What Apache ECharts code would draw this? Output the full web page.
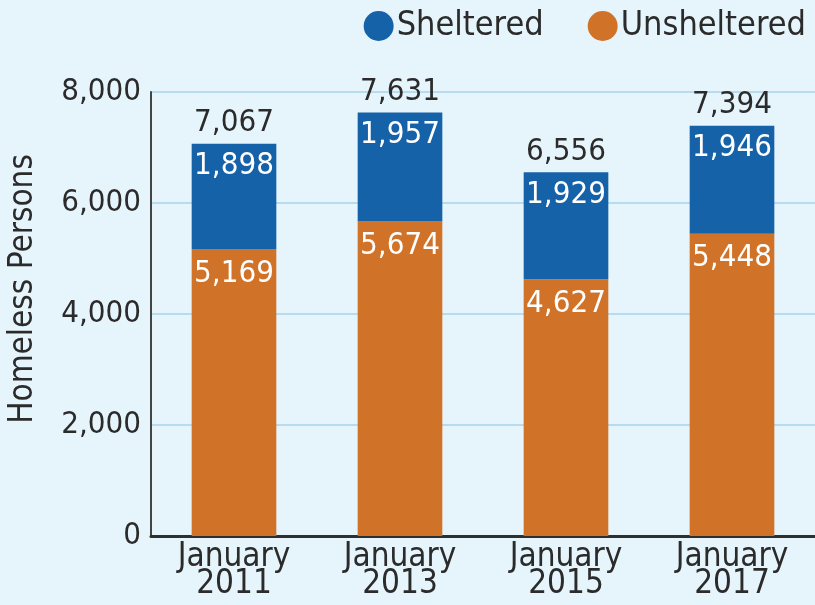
<!DOCTYPE html>
<html>
<head>
<meta charset="utf-8">
<script src="https://cdn.jsdelivr.net/npm/echarts@6/dist/echarts.min.js"></script>
<style>
  html, body { margin: 0; padding: 0; background: #e6f5fc; }
  #chart { width: 815px; height: 605px; }
</style>
</head>
<body>
<div id="chart"></div>
<script>
const categories = ['January\n2011', 'January\n2013', 'January\n2015', 'January\n2017'];
const unsheltered = [5169, 5674, 4627, 5448];
const sheltered = [1898, 1957, 1929, 1946];
const totals = [7067, 7631, 6556, 7394];

const FONT = '"Liberation Sans Narrow", "DejaVu Sans Condensed", "Noto Sans", sans-serif';
const fmt = v => Number(v).toLocaleString('en-US');

const chart = echarts.init(document.getElementById('chart'));
chart.setOption({
    backgroundColor: '#e6f5fc',
    animation: false,
    legend: {
        right: 4,
        top: 4,
        icon: 'circle',
        itemWidth: 30,
        itemHeight: 30,
        itemGap: 44,
        textStyle: {
            color: '#2b2b2b',
            fontSize: 34,
            fontFamily: FONT,
            padding: [0, 0, 0, -2]
        },
        data: ['Sheltered', 'Unsheltered']
    },
    grid: {
        left: 151,
        right: 0,
        top: 92,
        bottom: 69,
        outerBoundsMode: 'none'
    },
    xAxis: {
        type: 'category',
        data: categories,
        axisTick: { show: false },
        axisLine: {
            lineStyle: { color: '#2f2f2f', width: 3 }
        },
        axisLabel: {
            color: '#2b2b2b',
            fontSize: 33,
            fontFamily: FONT,
            lineHeight: 27,
            margin: 8
        }
    },
    yAxis: {
        type: 'value',
        min: 0,
        max: 8000,
        interval: 2000,
        name: 'Homeless Persons',
        nameLocation: 'middle',
        nameGap: 111,
        nameTextStyle: {
            color: '#2b2b2b',
            fontSize: 33,
            fontFamily: FONT,
            padding: [0, 0, 0, 50]
        },
        axisLine: {
            show: true,
            lineStyle: { color: '#444', width: 2 }
        },
        axisTick: { show: false },
        splitLine: {
            lineStyle: { color: '#b7dbef', width: 2 }
        },
        axisLabel: {
            color: '#2b2b2b',
            fontSize: 31,
            fontFamily: FONT,
            margin: 10,
            formatter: v => fmt(v)
        }
    },
    series: [{
        name: 'Unsheltered',
        type: 'bar',
        stack: 'total',
        barWidth: '51%',
        data: unsheltered,
        itemStyle: { color: '#d07329' },
        label: {
            show: true,
            position: 'insideTop',
            distance: 9,
            color: '#fff',
            fontSize: 31,
            fontFamily: FONT,
            formatter: p => fmt(p.value)
        }
    }, {
        name: 'Sheltered',
        type: 'bar',
        stack: 'total',
        data: sheltered,
        itemStyle: { color: '#1662a8' },
        label: {
            show: true,
            position: 'insideTop',
            distance: 7,
            color: '#fff',
            fontSize: 31,
            fontFamily: FONT,
            formatter: p => fmt(p.value)
        }
    }, {
        name: 'Total',
        type: 'bar',
        stack: 'total',
        data: totals.map(() => 0),
        itemStyle: { color: 'transparent' },
        label: {
            show: true,
            position: 'top',
            distance: 5,
            color: '#2b2b2b',
            fontSize: 31,
            fontFamily: FONT,
            formatter: p => fmt(totals[p.dataIndex])
        }
    }]
});
</script>
</body>
</html>
